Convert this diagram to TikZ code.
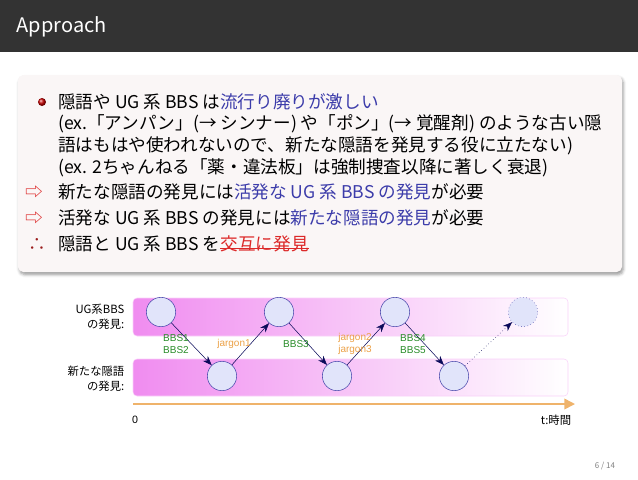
\documentclass[tikz,border=0pt]{standalone}
\usepackage{fontspec}
\setmainfont{Noto Sans CJK JP}
\newfontfamily\diagfont{Liberation Sans}
\usetikzlibrary{arrows.meta}
\usetikzlibrary{shadows.blur}
\definecolor{titlegray}{RGB}{51,51,51}
\definecolor{boxbg}{RGB}{250,246,246}
\definecolor{hiblue}{RGB}{60,60,170}
\definecolor{hired}{RGB}{220,40,40}
\definecolor{bandpink}{RGB}{240,140,240}
\definecolor{circfill}{RGB}{225,228,250}
\definecolor{circline}{RGB}{70,70,170}
\definecolor{lblgreen}{RGB}{40,140,40}
\definecolor{lblorange}{RGB}{235,160,70}
\definecolor{arrnavy}{RGB}{10,10,90}
\tikzset{
  item/.style={anchor=west,inner sep=0pt,font=\fontsize{13.2}{15}\selectfont},
  band/.style={draw=bandpink!40,rounded corners=3pt,left color=bandpink,right color=white},
  disc/.style={circle,draw=circline,fill=circfill,minimum size=22pt,inner sep=0pt},
  lbl/.style={font=\diagfont\fontsize{7.5}{8.5}\selectfont,align=left},
  side/.style={anchor=east,align=right,font=\fontsize{8.5}{11}\selectfont},
  flow/.style={-{Stealth[length=7pt]},draw=arrnavy}
}
\begin{document}
\begin{tikzpicture}[x=0.75pt,y=0.75pt,yscale=-1,xscale=1]
\useasboundingbox (0,0) rectangle (638,479);

% title bar
\fill[titlegray] (0,0) rectangle (638,52);
\node[anchor=west,text=white,font=\fontsize{15}{18}\selectfont] (title) at (12,27) {Approach};

% box
\fill[boxbg,rounded corners=4pt,blur shadow={shadow xshift=1pt,shadow yshift=-2pt}] (18,75) rectangle (622,272);
\shade[ball color=red!80!black] (42,102) circle (3pt);
\node[item] (l1) at (58,102) {隠語や UG 系 BBS は\textcolor{hiblue}{流行り廃りが激しい}};
\node[item] (l2) at (58,124) {(ex.「アンパン」(→ シンナー) や「ポン」(→ 覚醒剤) のような古い隠};
\node[item] (l3) at (58,146) {語はもはや使われないので、新たな隠語を発見する役に立たない)};
\node[item] (l4) at (58,168) {(ex. 2ちゃんねる「薬・違法板」は強制捜査以降に著しく衰退)};
\node[item,text=hired] (a1) at (25,192) {⇨};
\node[item] (l5) at (58,192) {新たな隠語の発見には\textcolor{hiblue}{活発な UG 系 BBS の発見}が必要};
\node[item,text=hired] (a2) at (25,218) {⇨};
\node[item] (l6) at (58,218) {活発な UG 系 BBS の発見には\textcolor{hiblue}{新たな隠語の発見}が必要};
\node[item,text=hired!70!black] (a3) at (28,244) {∴};
\node[item] (l7) at (58,244) {隠語と UG 系 BBS を\ };
\node[item,text=hired] (l7b) at (l7.east) {交互に発見};
\draw[hired,line width=0.8pt] ([yshift=-3pt]l7b.south west) -- ([yshift=-3pt]l7b.south east);

% diagram
\path[band] (133,298) rectangle (568,336);
\path[band] (133,359) rectangle (568,396);
\node[side] (ug) at (129,317) {UG系BBS\\の発見:};
\node[side] (jg) at (129,379) {新たな隠語\\の発見:};

\node[disc] (b1) at (161,312) {};
\node[disc] (b2) at (279,312) {};
\node[disc] (b3) at (395,312) {};
\node[disc,dotted] (b4) at (523,312) {};
\node[disc] (j1) at (222,376) {};
\node[disc] (j2) at (337,376) {};
\node[disc] (j3) at (454,376) {};

\draw[flow] (b1) -- (j1);
\draw[flow] (j1) -- (b2);
\draw[flow] (b2) -- (j2);
\draw[flow] (j2) -- (b3);
\draw[flow] (b3) -- (j3);
\draw[flow,dotted] (j3) -- (b4);

\node[lbl,text=lblgreen] (t1) at (176,344) {BBS1\\BBS2};
\node[lbl,text=lblorange] (t2) at (234,344) {jargon1};
\node[lbl,text=lblgreen] (t3) at (296,344) {BBS3};
\node[lbl,text=lblorange] (t4) at (355,344) {jargon2\\jargon3};
\node[lbl,text=lblgreen] (t5) at (413,344) {BBS4\\BBS5};

\coordinate (t0) at (133,404);
\coordinate (tend) at (575,404);
\draw[lblorange!80,line width=1.2pt,-{Triangle[length=8pt,width=8pt]}] (t0) -- (tend);
\node[font=\diagfont\fontsize{8}{10}\selectfont] (zero) at (135,420) {0};
\node[font=\fontsize{8.5}{10}\selectfont] (time) at (556,420) {t:時間};

\node[text=gray,font=\fontsize{6}{8}\selectfont] (page) at (605,466) {6 / 14};
\end{tikzpicture}
\end{document}
